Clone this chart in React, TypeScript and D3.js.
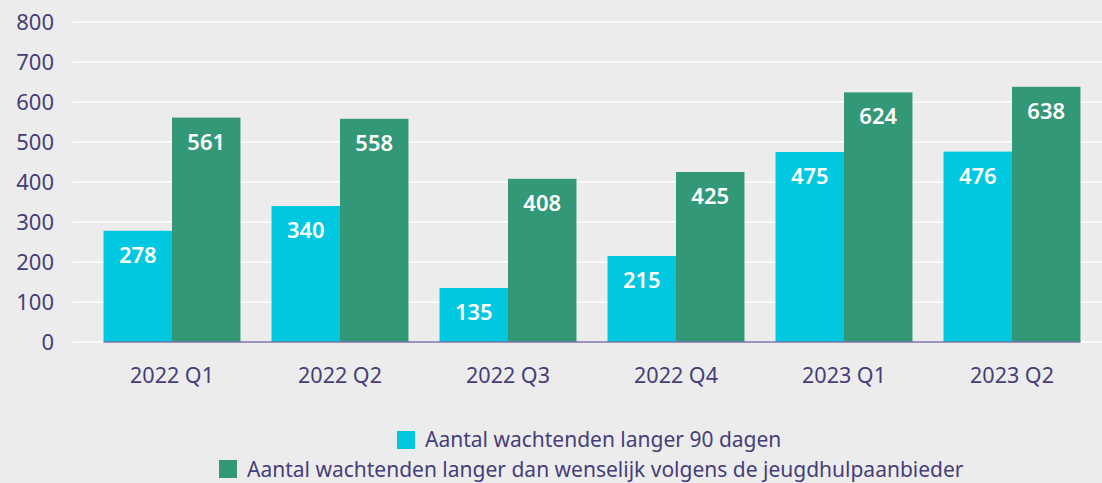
import React from "react";
import * as d3 from "d3";

const categories = ["2022 Q1", "2022 Q2", "2022 Q3", "2022 Q4", "2023 Q1", "2023 Q2"];
const seriesNames = [
  "Aantal wachtenden langer 90 dagen",
  "Aantal wachtenden langer dan wenselijk volgens de jeugdhulpaanbieder",
];
const series90 = [278, 340, 135, 215, 475, 476];
const seriesWens = [561, 558, 408, 425, 624, 638];
const yTicks = [0, 100, 200, 300, 400, 500, 600, 700, 800];
const colors = ["#00c8e0", "#339878"];

const W = 1102;
const H = 483;
const FONT = "'Noto Sans', 'Open Sans', sans-serif";
const TEXT = "#463e78";

export default function App() {
  const y = d3.scaleLinear().domain([0, 800]).range([342, 22]);
  const x = d3
    .scaleBand<string>()
    .domain(categories)
    .range([88, 1096])
    .paddingInner(0.185)
    .paddingOuter(0.0925);
  const xs = d3
    .scaleBand<number>()
    .domain([0, 1])
    .range([0, x.bandwidth()]);
  const data = [series90, seriesWens];
  const first = x(categories[0]) as number;
  const last = (x(categories[categories.length - 1]) as number) + x.bandwidth();

  return (
    <svg
      width={W}
      height={H}
      style={{ position: "absolute", left: 0, top: 0, display: "block" }}
      fontFamily={FONT}
    >
      <rect x={0} y={0} width={W} height={H} fill="#ececec" />
      {yTicks.map((t) => (
        <g key={t}>
          <line x1={73} x2={W} y1={y(t)} y2={y(t)} stroke="#ffffff" strokeWidth={1.5} />
          <text
            x={54}
            y={y(t) + 8}
            textAnchor="end"
            fontSize={22}
            fill={TEXT}
          >
            {t}
          </text>
        </g>
      ))}
      {categories.map((c, i) => (
        <g key={c} transform={`translate(${x(c)},0)`}>
          {data.map((s, k) => (
            <rect
              key={k}
              x={xs(k)}
              y={y(s[i])}
              width={xs.bandwidth()}
              height={y(0) - y(s[i])}
              fill={colors[k]}
            />
          ))}
          {data.map((s, k) => (
            <text
              key={"t" + k}
              x={(xs(k) as number) + xs.bandwidth() / 2}
              y={y(s[i]) + 32}
              textAnchor="middle"
              fontSize={22}
              fontWeight={600}
              fill="#ffffff"
            >
              {s[i]}
            </text>
          ))}
          <text
            x={x.bandwidth() / 2}
            y={y(0) + 41}
            textAnchor="middle"
            fontSize={21.5}
            fill={TEXT}
          >
            {c}
          </text>
        </g>
      ))}
      <line x1={first} x2={last} y1={y(0)} y2={y(0)} stroke="#7b70a5" strokeWidth={1.5} />
      <g>
        <rect x={397} y={431} width={18} height={18} fill={colors[0]} />
        <text x={425} y={447} fontSize={21} fill={TEXT}>
          {seriesNames[0]}
        </text>
        <rect x={219} y={460} width={18} height={18} fill={colors[1]} />
        <text x={247} y={477} fontSize={21} fill={TEXT}>
          {seriesNames[1]}
        </text>
      </g>
    </svg>
  );
}
